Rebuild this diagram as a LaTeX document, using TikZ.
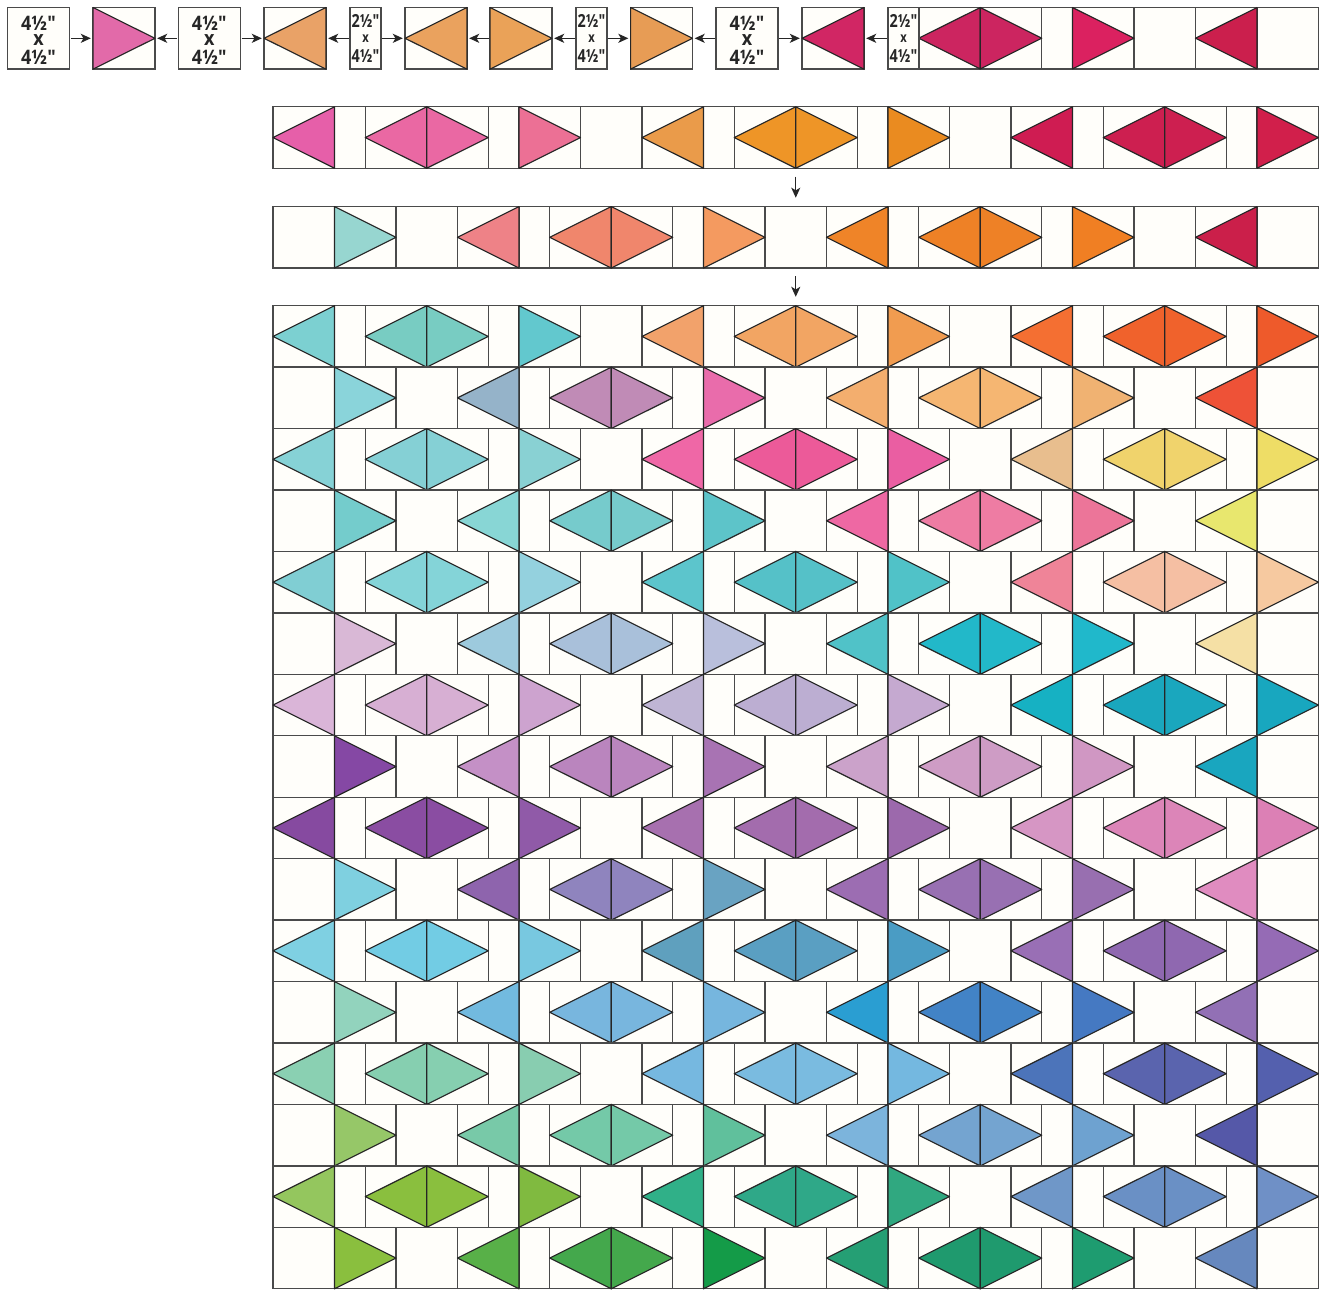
\documentclass[tikz,border=0pt]{standalone}
\usepackage{fontspec}
\setmainfont{Open Sans}
\newfontfamily\bigfont[FakeStretch=0.9]{Open Sans}
\newfontfamily\smallfont[FakeStretch=0.8]{Open Sans}
\usetikzlibrary{arrows.meta}
\definecolor{paper}{HTML}{FFFEFA}
\definecolor{frame}{HTML}{4A4A4A}
\definecolor{ink}{HTML}{262626}
\def\ux{30.75}
\def\rh{61.44}
\def\ry{0}
\tikzset{
  tri/.style={draw=ink,line width=.85pt,line join=round},
  cellline/.style={draw=frame,line width=1pt},
  rowbox/.style={draw=frame,fill=paper,line width=1pt,minimum width=784.1pt,minimum height=46.08pt,inner sep=0pt,outer sep=0pt},
  square/.style={draw=frame,fill=paper,line width=1.05pt,minimum width=46.4pt,minimum height=46.2pt,inner sep=0pt,outer sep=0pt},
  narrow/.style={draw=frame,fill=paper,line width=1.05pt,minimum width=23pt,minimum height=46.2pt,inner sep=0pt,outer sep=0pt},
  bigtext/.style={font=\bigfont\fontsize{15}{11}\bfseries\selectfont,align=center,text=ink},
  smalltext/.style={font=\smallfont\fontsize{13.5}{11.2}\bfseries\selectfont,align=center,text=ink},
  sizebox/.style={square,label={[bigtext,yshift=-1.6pt]center:{4½"\\x\\[3.4pt]4½"}}},
  arr/.style={-{Stealth[length=7.5pt,width=6.8pt,inset=2pt]},draw=ink,line width=.85pt},
  harr/.style={arr,shorten <=1.1pt,shorten >=1.7pt},
  varr/.style={arr,shorten <=6.3pt,shorten >=6.7pt},
}
\newcommand\smallx{{\fontsize{10.5}{11.2}\selectfont x}}
\newcommand\LT[3]{\pgfmathsetmacro\xa{273+#1*\ux}\pgfmathsetmacro\xb{\xa+2*\ux}\definecolor{cc}{HTML}{#3}%
  \draw[tri,fill=cc] (\xb,#2) -- (\xb,#2+\rh) -- (\xa,#2+\rh/2) -- cycle;}
\newcommand\RT[3]{\pgfmathsetmacro\xa{273+#1*\ux}\pgfmathsetmacro\xb{\xa+2*\ux}\definecolor{cc}{HTML}{#3}%
  \draw[tri,fill=cc] (\xa,#2) -- (\xa,#2+\rh) -- (\xb,#2+\rh/2) -- cycle;}
\newcommand\VL[1]{\foreach \u in {#1}{\pgfmathsetmacro\xa{273+\u*\ux}\draw[cellline] (\xa,\ry) -- (\xa,\ry+\rh);}}
\newcommand\setrow[2]{\def\ry{#2}\pgfmathsetmacro\cyy{#2+\rh/2}\node[rowbox] (#1) at (795.75,\cyy) {};}
\newcommand\RowA[9]{\VL{2,3,5,7,8,10,12,14,15,17,19,20,22,24,26,27,29,31,32}%
  \LT{0}{\ry}{#1}\LT{3}{\ry}{#2}\RT{5}{\ry}{#2}\RT{8}{\ry}{#3}%
  \LT{12}{\ry}{#4}\LT{15}{\ry}{#5}\RT{17}{\ry}{#5}\RT{20}{\ry}{#6}%
  \LT{24}{\ry}{#7}\LT{27}{\ry}{#8}\RT{29}{\ry}{#8}\RT{32}{\ry}{#9}}
\newcommand\RowB[8]{\VL{2,4,6,8,9,11,13,14,16,18,20,21,23,25,26,28,30,32}%
  \RT{2}{\ry}{#1}\LT{6}{\ry}{#2}\LT{9}{\ry}{#3}\RT{11}{\ry}{#3}\RT{14}{\ry}{#4}%
  \LT{18}{\ry}{#5}\LT{21}{\ry}{#6}\RT{23}{\ry}{#6}\RT{26}{\ry}{#7}\LT{30}{\ry}{#8}}
\newcommand\SqR[2]{\definecolor{cc}{HTML}{#2}\draw[tri,fill=cc] (#1.north west) -- (#1.east) -- (#1.south west) -- cycle;}
\newcommand\SqL[2]{\definecolor{cc}{HTML}{#2}\draw[tri,fill=cc] (#1.north east) -- (#1.west) -- (#1.south east) -- cycle;}
\begin{document}
\begin{tikzpicture}[x=0.75pt,y=-0.75pt]
\useasboundingbox (0,0) rectangle (1319,1290);
\fill[white] (0,0) rectangle (1319,1290);
% top sequence
\node[sizebox] (b1) at (38.5,38.3) {};
\node[square] (t1) at (124,38.3) {};
\node[sizebox] (b2) at (209.3,38.3) {};
\node[square] (t2) at (295,38.3) {};
\node[narrow,smalltext] (n1) at (365.5,38.3) {2½"\\\smallx\\[3.8pt]4½"};
\node[square] (t3) at (436,38.3) {};
\node[square] (t4) at (521,38.3) {};
\node[narrow,smalltext] (n2) at (591.5,38.3) {2½"\\\smallx\\[3.8pt]4½"};
\node[square] (t5) at (661.5,38.3) {};
\node[sizebox] (b3) at (747,38.3) {};
\node[square] (t6) at (833,38.3) {};
\SqR{t1}{E26AA9}\SqL{t2}{E9A267}\SqL{t3}{EAA25E}\SqR{t4}{EAA258}\SqR{t5}{E79C55}\SqL{t6}{D12664}
% top strip
\def\ry{7.5}
\node[rowbox,minimum width=322.9pt,minimum height=46.2pt] (strip) at (1103.25,38.3) {};
\VL{21,23,25,26,28,30,32}
\LT{21}{\ry}{CC2560}\RT{23}{\ry}{CC2560}\RT{26}{\ry}{DB2160}\LT{30}{\ry}{CB1F4D}
\node[narrow,smalltext] (n3) at (903.5,38.3) {2½"\\\smallx\\[3.8pt]4½"};
\draw[harr] (b1) -- (t1);
\draw[harr] (b2) -- (t1);
\draw[harr] (b2) -- (t2);
\draw[harr] (n1) -- (t2);
\draw[harr] (n1) -- (t3);
\draw[harr] (t4) -- (t3);
\draw[harr] (n2) -- (t4);
\draw[harr] (n2) -- (t5);
\draw[harr] (b3) -- (t5);
\draw[harr] (b3) -- (t6);
\draw[harr] (n3) -- (t6);
% two rows in assembly
\setrow{row1}{106.8}
\RowA{E65FA9}{EA68A3}{EC7095}{EA9B4A}{EE9527}{EA8B20}{CF1C52}{CD1F50}{D11F4B}
\setrow{row2}{206.6}
\RowB{97D6D0}{EE8287}{F0866C}{F49A60}{EF8428}{EE8126}{F07F23}{CB1F4A}
% quilt
\setrow{row3}{305.7}
\RowA{7CD0D1}{78CCC2}{62C8CE}{F2A26B}{F2A563}{F19C50}{F46F32}{F0622C}{EE5A2B}
\setrow{row4}{367.14}
\RowB{8AD4DA}{95B3C9}{C08BB6}{E96CAB}{F3AE6E}{F5B672}{F0B272}{EE5237}
\setrow{row5}{428.58}
\RowA{86D2D6}{85D0D5}{89D1D3}{EF67A6}{EC5A99}{EA5EA2}{E8BE8E}{F0D36C}{EEDD66}
\setrow{row6}{490.02}
\RowB{74CCCC}{88D6D5}{76CBCC}{5DC4C9}{EE68A3}{EE7CA3}{EC7599}{E8E76E}
\setrow{row7}{551.46}
\RowA{80CED3}{84D4D8}{94D1DE}{5CC5CC}{55C1C8}{50C2C8}{EF8498}{F5BFA3}{F6C9A0}
\setrow{row8}{612.9}
\RowB{D9B8D6}{9DCADD}{A9C0DA}{B9BFDC}{50C2C8}{22B8C9}{20B8CB}{F5E0A5}
\setrow{row9}{674.34}
\RowA{DAB5D8}{D7AFD3}{CDA3CF}{BFB5D4}{BCAED2}{C5A9D0}{16B1C3}{1AA7BE}{18A7BF}
\setrow{row10}{735.78}
\RowB{8548A4}{C490C6}{BA85BE}{A873B3}{CBA2CA}{CE9CC5}{D097C3}{19A6BF}
\setrow{row11}{797.22}
\RowA{864AA0}{8A4DA2}{905AA8}{A770AF}{A36CAD}{9C69AC}{D696C4}{DC85B8}{DC80B5}
\setrow{row12}{858.66}
\RowB{7FD0E0}{8E64AD}{8F84BE}{69A3C2}{9C6DB2}{9870B2}{986FB0}{E08CC0}
\setrow{row13}{920.1}
\RowA{7FD0E2}{72CCE4}{78C8E0}{5FA0BE}{5A9FC2}{4A9CC4}{996FB5}{8F68B0}{956BB5}
\setrow{row14}{981.54}
\RowB{92D3BD}{72BADF}{78B6DE}{76B6DE}{2A9ED2}{4283C6}{4579C2}{9270B5}
\setrow{row15}{1042.98}
\RowA{8AD0B2}{86CFB0}{88CDB0}{76B8E0}{7ABBE0}{74B8E0}{4C74BA}{5A64AE}{5460AE}
\setrow{row16}{1104.42}
\RowB{96C768}{78C9A8}{74C9A8}{60C09C}{7CB4DC}{74A4D0}{6EA2D0}{5558A8}
\setrow{row17}{1165.86}
\RowA{94C65E}{8ABF3E}{80BA40}{30B088}{2FA888}{30A880}{6F97C8}{6A90C5}{6F90C6}
\setrow{row18}{1227.3}
\RowB{8ABF3E}{58B048}{44A84C}{149B48}{259F74}{1F9A6E}{1E9C70}{6688BE}
\draw[varr] (row1) -- (row2);
\draw[varr] (row2) -- (row3);
\end{tikzpicture}
\end{document}
